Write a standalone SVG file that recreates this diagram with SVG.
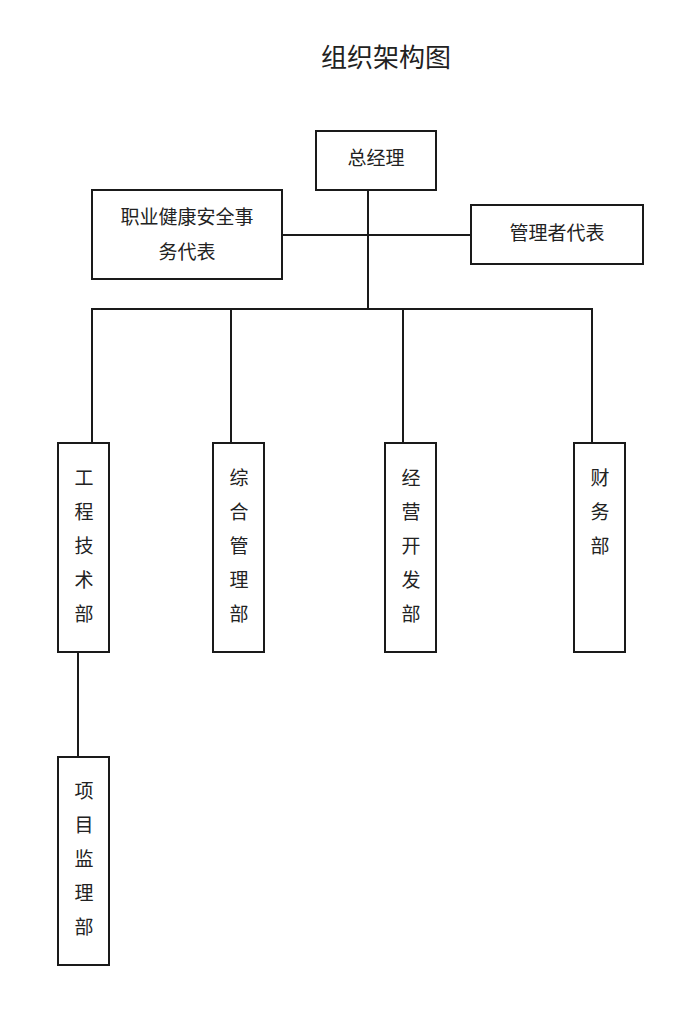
<svg xmlns="http://www.w3.org/2000/svg" width="700" height="1029" viewBox="0 0 700 1029">
<style>
.box{fill:#fff;stroke:#1a1a1a;stroke-width:2}
.ln{stroke:#1a1a1a;stroke-width:2;fill:none}
text{font-family:"Noto Sans CJK SC","Liberation Sans",sans-serif;fill:#222;font-size:19px;text-anchor:middle;dominant-baseline:central}
.title{font-size:26px}
</style>
<rect width="700" height="1029" fill="#fff"/>
<text class="title" x="386" y="55">组织架构图</text>
<g id="connectors">
<line class="ln" x1="368" y1="190" x2="368" y2="309"/>
<line class="ln" x1="282" y1="235" x2="471" y2="235"/>
<line class="ln" x1="92" y1="309" x2="593" y2="309"/>
<line class="ln" x1="92" y1="308" x2="92" y2="444"/>
<line class="ln" x1="231" y1="309" x2="231" y2="444"/>
<line class="ln" x1="403" y1="309" x2="403" y2="444"/>
<line class="ln" x1="592" y1="308" x2="592" y2="444"/>
<line class="ln" x1="78" y1="652" x2="78" y2="757"/>
</g>
<g id="n_zjl">
<rect class="box" x="316" y="131" width="120" height="59"/>
<text x="376" y="156">总经理</text>
</g>
<g id="n_zyjk">
<rect class="box" x="92" y="190" width="190" height="89"/>
<text x="187" y="215">职业健康安全事</text>
<text x="187" y="250">务代表</text>
</g>
<g id="n_glzdb">
<rect class="box" x="471" y="205" width="172" height="59"/>
<text x="557" y="231">管理者代表</text>
</g>
<g id="n_gcjs">
<rect class="box" x="58" y="443" width="51" height="209"/>
<text x="84" y="476">工</text><text x="84" y="510">程</text><text x="84" y="544">技</text><text x="84" y="578">术</text><text x="84" y="612">部</text>
</g>
<g id="n_zhgl">
<rect class="box" x="213" y="443" width="51" height="209"/>
<text x="239" y="476">综</text><text x="239" y="510">合</text><text x="239" y="544">管</text><text x="239" y="578">理</text><text x="239" y="612">部</text>
</g>
<g id="n_jykf">
<rect class="box" x="385" y="443" width="51" height="209"/>
<text x="411" y="476">经</text><text x="411" y="510">营</text><text x="411" y="544">开</text><text x="411" y="578">发</text><text x="411" y="612">部</text>
</g>
<g id="n_cw">
<rect class="box" x="574" y="443" width="51" height="209"/>
<text x="600" y="476">财</text><text x="600" y="510">务</text><text x="600" y="544">部</text>
</g>
<g id="n_xmjl">
<rect class="box" x="58" y="757" width="51" height="208"/>
<text x="84" y="789">项</text><text x="84" y="823">目</text><text x="84" y="857">监</text><text x="84" y="891">理</text><text x="84" y="925">部</text>
</g>
</svg>
